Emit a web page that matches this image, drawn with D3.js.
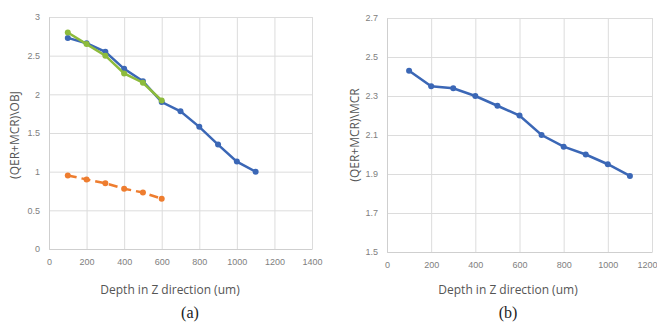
<!DOCTYPE html>
<html>
<head>
<meta charset="utf-8">
<script src="https://cdn.jsdelivr.net/npm/d3@7"></script>
<style>
  body { margin: 0; background: #fff; }
  svg { display: block; }
  .tick text { font-family: "Liberation Sans", Arial, sans-serif; font-size: 9px; fill: #808080; }
  .ttl { font-family: "Open Sans", "Liberation Sans", sans-serif; font-size: 12px; fill: #555; }
  .cap { font-family: "Liberation Serif", "DejaVu Serif", serif; font-size: 16px; fill: #222; }
</style>
</head>
<body>
<svg id="chart" width="657" height="323"></svg>
<script>
// chart (a)
var depthA = [100, 200, 300, 400, 500, 600, 700, 800, 900, 1000, 1100];
var blueA = [2.73, 2.66, 2.55, 2.33, 2.17, 1.90, 1.78, 1.58, 1.35, 1.13, 1.00];
var depthShort = [100, 200, 300, 400, 500, 600];
var greenA = [2.80, 2.65, 2.50, 2.27, 2.15, 1.92];
var orangeA = [0.95, 0.90, 0.85, 0.78, 0.73, 0.65];
var xTicksA = [0, 200, 400, 600, 800, 1000, 1200, 1400];
var yTicksA = [0, 0.5, 1, 1.5, 2, 2.5, 3];

// chart (b)
var depthB = [100, 200, 300, 400, 500, 600, 700, 800, 900, 1000, 1100];
var blueB = [2.43, 2.35, 2.34, 2.30, 2.25, 2.20, 2.10, 2.04, 2.00, 1.95, 1.89];
var xTicksB = [0, 200, 400, 600, 800, 1000, 1200];
var yTicksB = [1.5, 1.7, 1.9, 2.1, 2.3, 2.5, 2.7];

var BLUE = "#3b67b6", GREEN = "#8dbb3c", ORANGE = "#ee7d2f";

var svg = d3.select("#chart");

function panel(opt) {
  var x = d3.scaleLinear().domain(opt.xDomain).range([opt.left, opt.right]);
  var y = d3.scaleLinear().domain(opt.yDomain).range([opt.bottom, opt.top]);
  var g = svg.append("g");

  // gridlines
  g.append("g")
    .attr("transform", "translate(0," + opt.bottom + ")")
    .call(d3.axisBottom(x).tickValues(opt.xTicks).tickSize(opt.top - opt.bottom).tickFormat(""))
    .call(s => s.select(".domain").remove())
    .call(s => s.selectAll("line").attr("stroke", "#dcdcdc"));
  g.append("g")
    .attr("transform", "translate(" + opt.left + ",0)")
    .call(d3.axisLeft(y).tickValues(opt.yTicks).tickSize(opt.left - opt.right).tickFormat(""))
    .call(s => s.select(".domain").remove())
    .call(s => s.selectAll("line").attr("stroke", "#dcdcdc"));

  // axes with labels
  var xa = g.append("g")
    .attr("transform", "translate(0," + opt.bottom + ")")
    .call(d3.axisBottom(x).tickValues(opt.xTicks).tickSize(0).tickPadding(10).tickFormat(d3.format("d")))
    .call(s => s.select(".domain").attr("stroke", "#cfcfcf"));
  if (opt.lastEnd) {
    // keep the last tick label inside the window
    xa.selectAll(".tick:last-of-type text").attr("text-anchor", "end").attr("dx", 5);
  }
  g.append("g")
    .attr("transform", "translate(" + opt.left + ",0)")
    .call(d3.axisLeft(y).tickValues(opt.yTicks).tickSize(0).tickPadding(9).tickFormat(opt.yFmt))
    .call(s => s.select(".domain").attr("stroke", "#cfcfcf"));

  opt.series.forEach(function (s) {
    var pts = s.xs.map((d, i) => [d, s.ys[i]]);
    g.append("path")
      .datum(pts)
      .attr("fill", "none")
      .attr("stroke", s.color)
      .attr("stroke-width", 2.5)
      .attr("stroke-dasharray", s.dash || null)
      .attr("d", d3.line().x(d => x(d[0])).y(d => y(d[1])));
    g.selectAll(null)
      .data(pts)
      .enter().append("circle")
      .attr("cx", d => x(d[0]))
      .attr("cy", d => y(d[1]))
      .attr("r", 3)
      .attr("fill", s.color);
  });

  g.append("text").attr("class", "ttl")
    .attr("x", opt.xTitleX).attr("y", 294).attr("text-anchor", "middle")
    .text("Depth in Z direction (um)");
  g.append("text").attr("class", "ttl")
    .attr("transform", "translate(" + opt.yTitleX + "," + 135 + ") rotate(-90)")
    .attr("text-anchor", "middle")
    .text(opt.yTitle);
  g.append("text").attr("class", "cap")
    .attr("x", opt.capX).attr("y", 318).attr("text-anchor", "middle")
    .text(opt.cap);
}

panel({
  left: 49, right: 312, top: 17, bottom: 249,
  xDomain: [0, 1400], yDomain: [0, 3],
  xTicks: xTicksA, yTicks: yTicksA, yFmt: d3.format("~g"),
  series: [
    { xs: depthShort, ys: orangeA, color: ORANGE, dash: "9,5" },
    { xs: depthA, ys: blueA, color: BLUE },
    { xs: depthShort, ys: greenA, color: GREEN }
  ],
  xTitleX: 170, yTitleX: 19, yTitle: "(QER+MCR)\\OBJ", cap: "(a)", capX: 190
});

panel({
  left: 387, right: 652, top: 18, bottom: 252,
  xDomain: [0, 1200], yDomain: [1.5, 2.7],
  xTicks: xTicksB, yTicks: yTicksB, yFmt: d3.format(".1f"), lastEnd: true,
  series: [
    { xs: depthB, ys: blueB, color: BLUE }
  ],
  xTitleX: 508, yTitleX: 359, yTitle: "(QER+MCR)\\MCR", cap: "(b)", capX: 508
});
</script>
</body>
</html>
